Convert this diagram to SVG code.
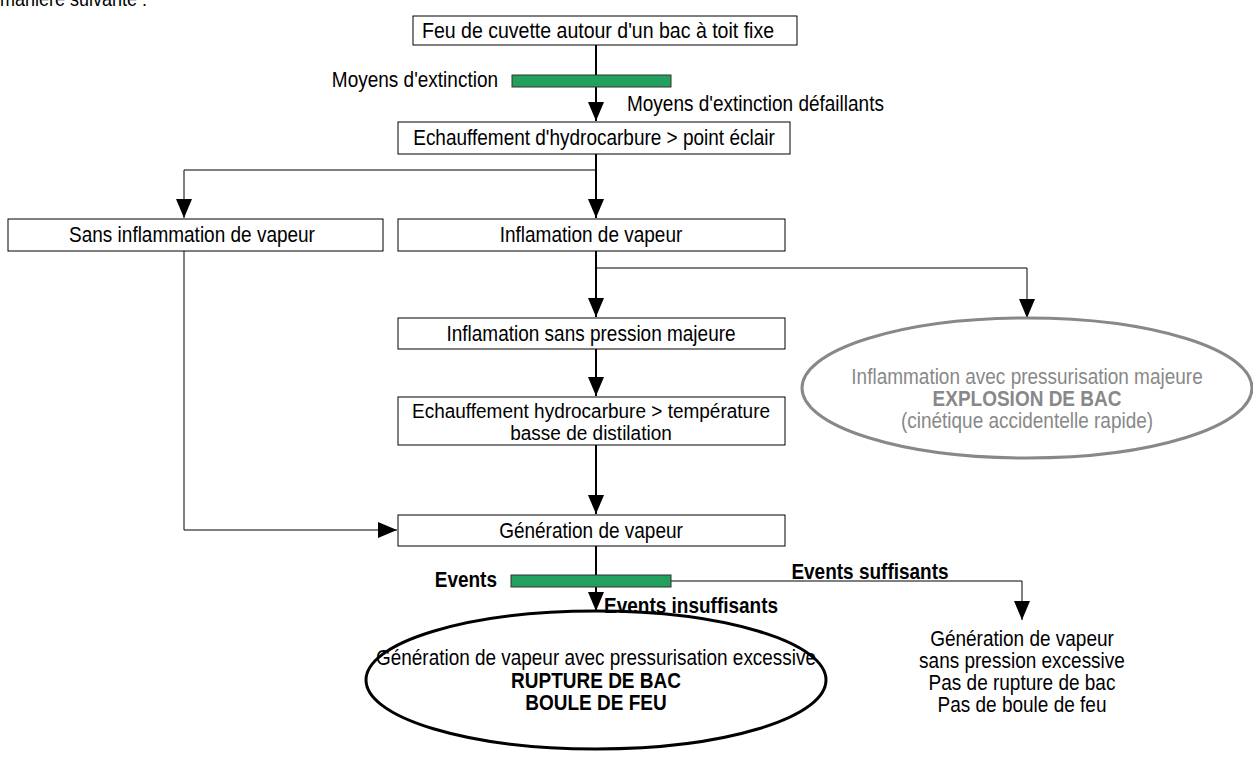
<svg xmlns="http://www.w3.org/2000/svg" width="1253" height="764" viewBox="0 0 1253 764">
<defs>
<style>
text{font-family:"Liberation Sans",Arial,sans-serif;font-size:19px;fill:#000}
.c{text-anchor:middle}
.e{text-anchor:end}
.b{font-weight:bold}
.g{fill:#888}
.box{fill:#fff;stroke:#000;stroke-width:1}
.bar{fill:#21a05e;stroke:#333;stroke-width:1}
.main{stroke:#000;stroke-width:2;fill:none}
.thin{stroke:#000;stroke-width:1;fill:none}
</style>
<marker id="ah" viewBox="0 0 19 16" refX="19" refY="8" markerWidth="19" markerHeight="16" markerUnits="userSpaceOnUse" orient="auto">
<path d="M0,0 L19,8 L0,16 z" fill="#000"/>
</marker>
</defs>
<rect width="1253" height="764" fill="#fff"/>
<text transform="translate(0,6) scale(1,1.12)" style="font-size:18px">manière suivante :</text>

<g id="connectors">
<path class="main" d="M596,45 V121" marker-end="url(#ah)"/>
<path class="main" d="M596,154 V218" marker-end="url(#ah)"/>
<path class="thin" d="M596,170 H184 V218" marker-end="url(#ah)"/>
<path class="main" d="M596,251 V317" marker-end="url(#ah)"/>
<path class="thin" d="M596,268 H1027 V318" marker-end="url(#ah)"/>
<path class="main" d="M596,349 V396" marker-end="url(#ah)"/>
<path class="main" d="M596,445 V514" marker-end="url(#ah)"/>
<path class="thin" d="M184,251 V530 H397" marker-end="url(#ah)"/>
<path class="main" d="M596,546 V611" marker-end="url(#ah)"/>
<path class="thin" d="M671,581 H1022 V620" marker-end="url(#ah)"/>
</g>

<g id="barrier1">
<rect class="bar" x="512" y="75" width="159" height="12"/>
<text class="e" transform="translate(498,87) scale(1,1.12)">Moyens d'extinction</text>
<text transform="translate(627,111) scale(1,1.12)">Moyens d'extinction défaillants</text>
</g>

<g id="n1">
<rect class="box" x="413" y="16" width="384" height="29"/>
<text transform="translate(422,38) scale(1,1.12)" textLength="352" lengthAdjust="spacingAndGlyphs">Feu de cuvette autour d'un bac à toit fixe</text>
</g>
<g id="n2">
<rect class="box" x="398" y="122" width="392" height="32"/>
<text class="c" transform="translate(594,145) scale(1,1.12)">Echauffement d'hydrocarbure &gt; point éclair</text>
</g>
<g id="n3">
<rect class="box" x="8" y="219" width="375" height="32"/>
<text class="c" transform="translate(192,242) scale(1,1.12)">Sans inflammation de vapeur</text>
</g>
<g id="n4">
<rect class="box" x="398" y="219" width="387" height="32"/>
<text class="c" transform="translate(591,242) scale(1,1.12)">Inflamation de vapeur</text>
</g>
<g id="n5">
<rect class="box" x="398" y="318" width="387" height="31"/>
<text class="c" transform="translate(591,341) scale(1,1.12)">Inflamation sans pression majeure</text>
</g>
<g id="n6">
<rect class="box" x="398" y="397" width="387" height="48"/>
<text class="c" transform="translate(591,418) scale(1,1.08)">Echauffement hydrocarbure &gt; température</text>
<text class="c" transform="translate(591,440) scale(1,1.08)">basse de distilation</text>
</g>
<g id="n7">
<rect class="box" x="398" y="515" width="387" height="31"/>
<text class="c" transform="translate(591,538) scale(1,1.12)">Génération de vapeur</text>
</g>
<g id="n8">
<ellipse cx="1027" cy="388" rx="225" ry="70" fill="none" stroke="#888" stroke-width="3"/>
<text class="c g" transform="translate(1027,384) scale(1,1.12)">Inflammation avec pressurisation majeure</text>
<text class="c g b" transform="translate(1027,406) scale(1,1.12)">EXPLOSION DE BAC</text>
<text class="c g" transform="translate(1027,428) scale(1,1.12)">(cinétique accidentelle rapide)</text>
</g>
<g id="barrier2">
<rect class="bar" x="511" y="575" width="160" height="12"/>
<text class="b e" transform="translate(497,587) scale(1,1.12)">Events</text>
<text class="b" transform="translate(604,613) scale(1,1.12)">Events insuffisants</text>
<text class="b c" transform="translate(870,579) scale(1,1.12)">Events suffisants</text>
</g>
<g id="n9">
<ellipse cx="596" cy="680" rx="230" ry="69" fill="none" stroke="#000" stroke-width="3"/>
<text class="c" transform="translate(596,665) scale(1,1.12)" textLength="440" lengthAdjust="spacingAndGlyphs">Génération de vapeur avec pressurisation excessive</text>
<text class="c b" transform="translate(596,688) scale(1,1.12)">RUPTURE DE BAC</text>
<text class="c b" transform="translate(596,710) scale(1,1.12)">BOULE DE FEU</text>
</g>
<g id="n10">
<text class="c" transform="translate(1022,646) scale(1,1.12)">Génération de vapeur</text>
<text class="c" transform="translate(1022,668) scale(1,1.12)">sans pression excessive</text>
<text class="c" transform="translate(1022,690) scale(1,1.12)">Pas de rupture de bac</text>
<text class="c" transform="translate(1022,712) scale(1,1.12)">Pas de boule de feu</text>
</g>
</svg>
